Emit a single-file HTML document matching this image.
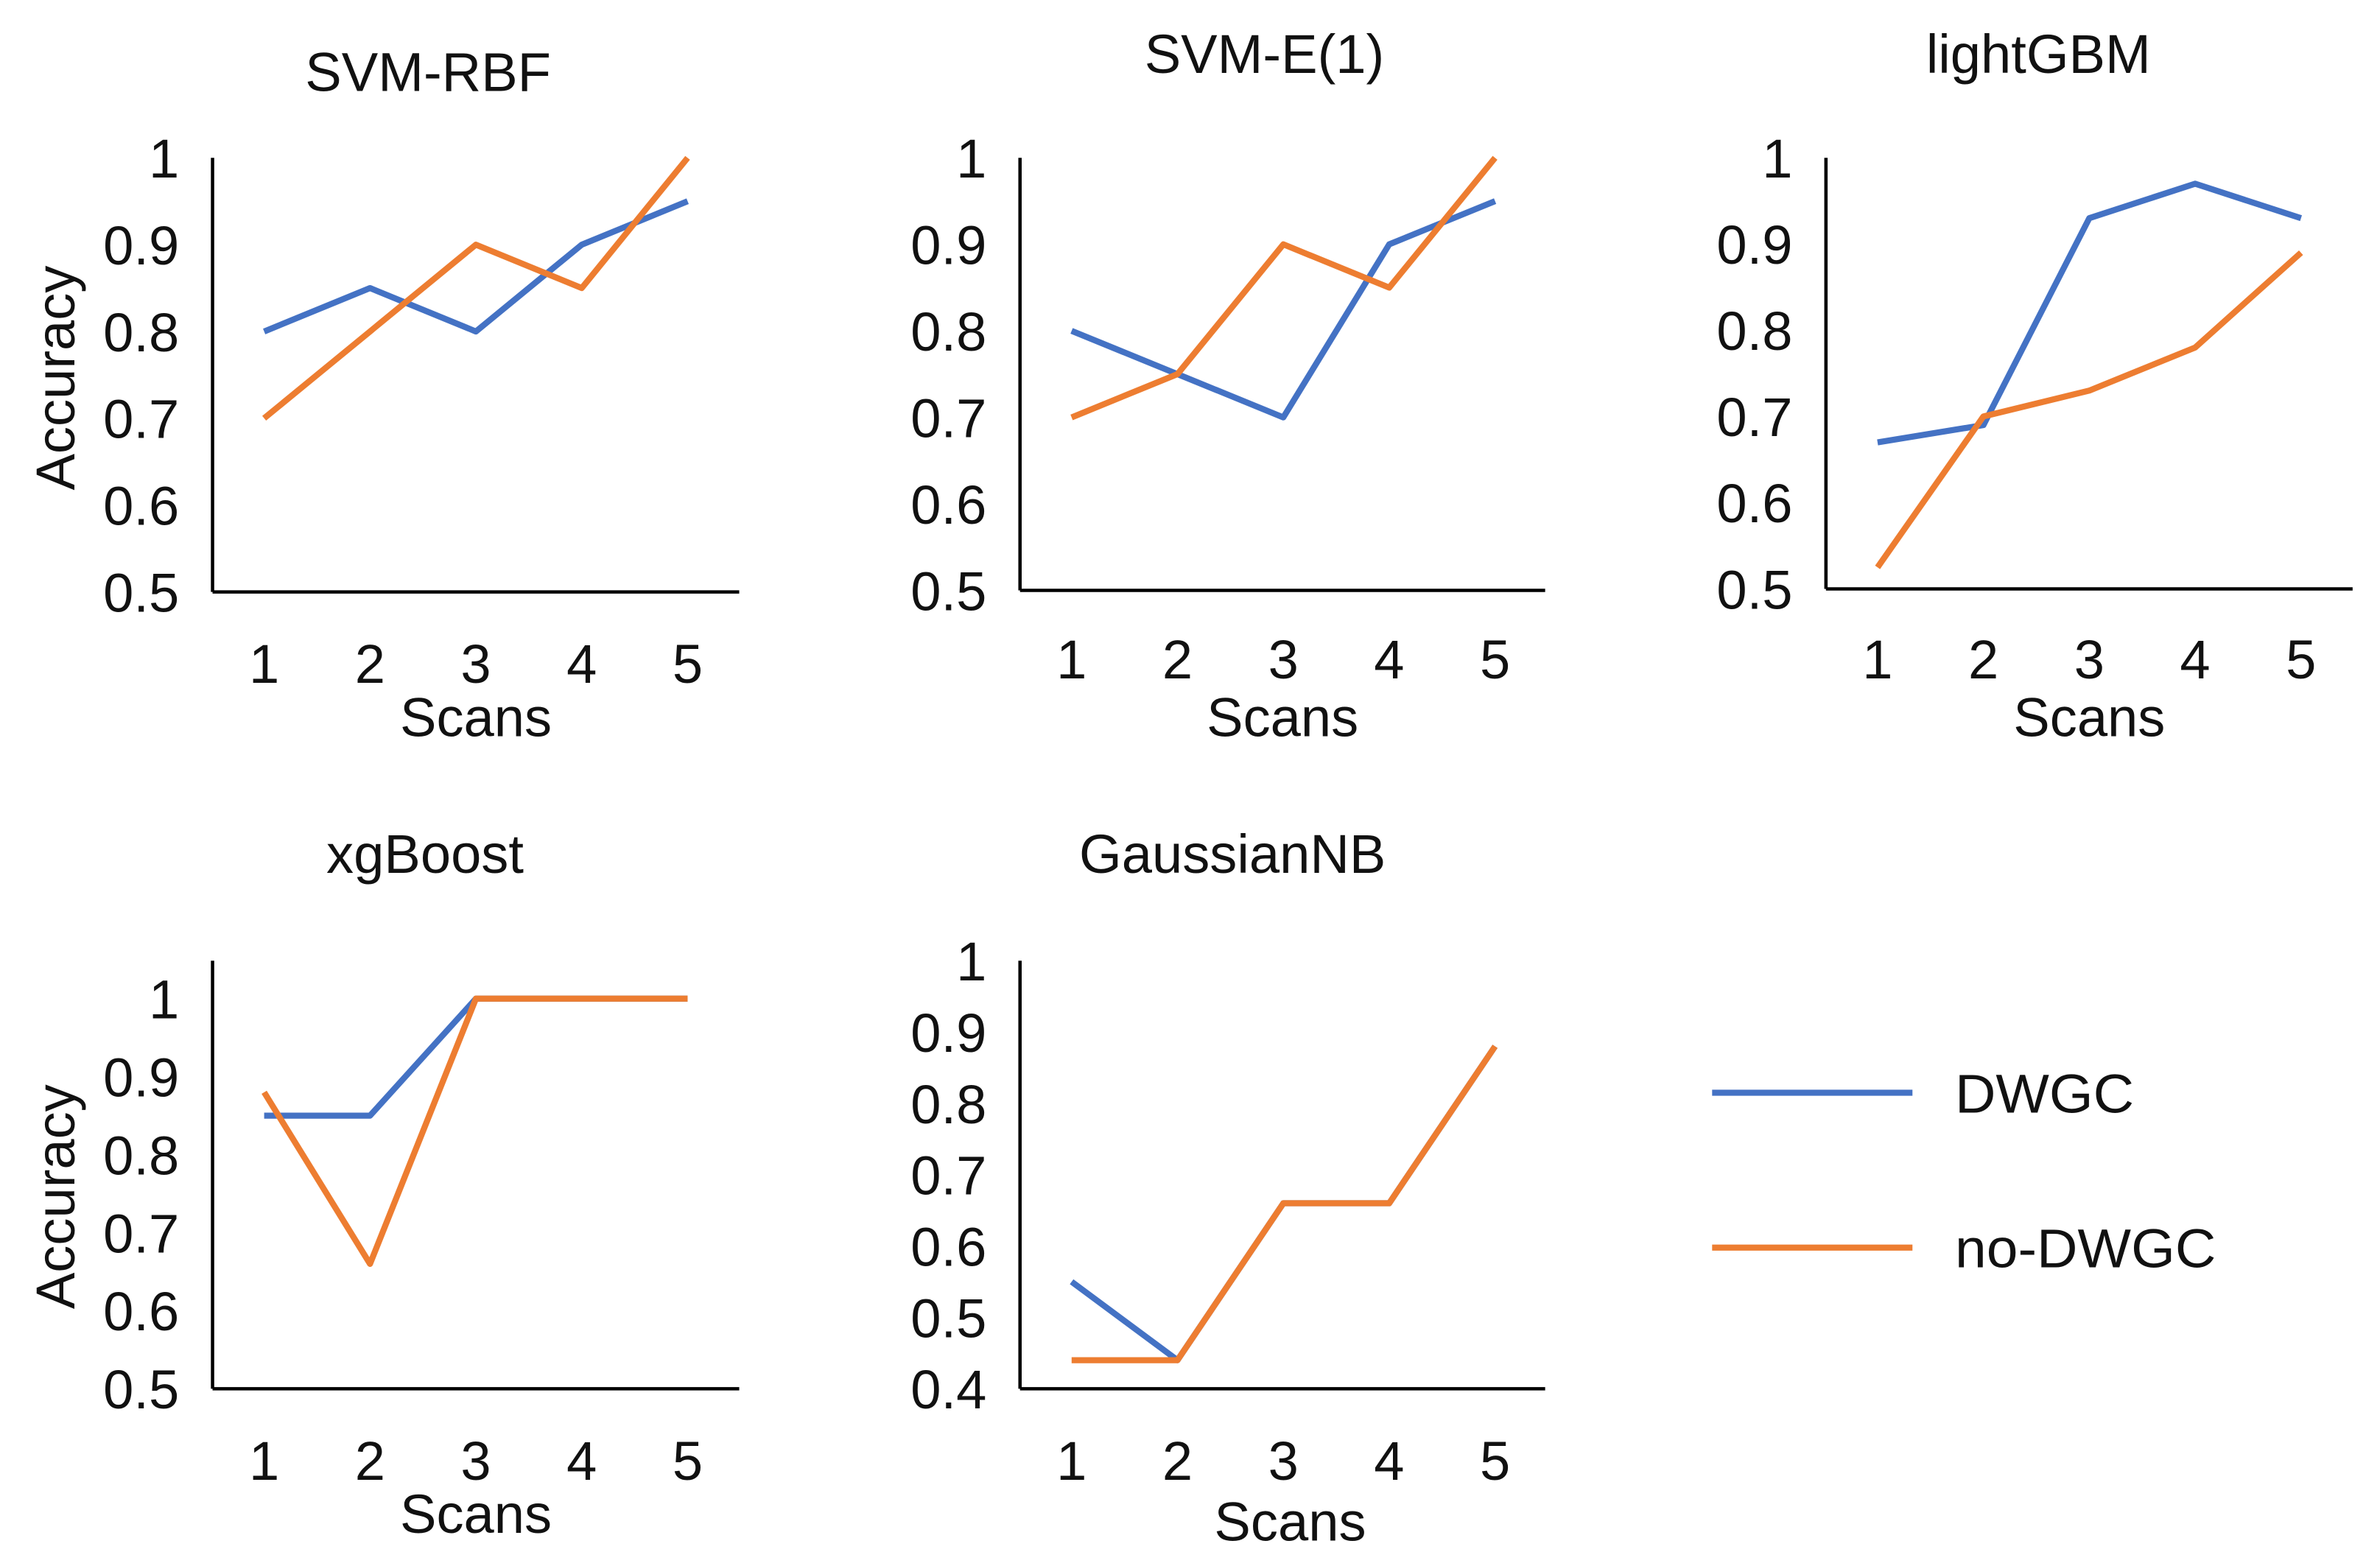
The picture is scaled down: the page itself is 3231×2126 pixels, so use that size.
<!DOCTYPE html>
<html><head><meta charset="utf-8"><style>
html,body{margin:0;padding:0;background:#fff}
svg{display:block}
text{font-family:"Liberation Sans",Arial,sans-serif;fill:#111}
</style></head><body>
<svg id="fig" xmlns="http://www.w3.org/2000/svg" width="3231" height="2126" viewBox="0 0 1568 1031.8"></svg>
<script>
const scans = [1,2,3,4,5];
const seriesNames = ["DWGC","no-DWGC"];
const titles = ["SVM-RBF","SVM-E(1)","lightGBM","xgBoost","GaussianNB"];
const svmRbfDwgc = [0.8,0.85,0.8,0.9,0.95];
const svmRbfNo = [0.7,0.8,0.9,0.85,1.0];
const svmE1Dwgc = [0.8,0.75,0.7,0.9,0.95];
const svmE1No = [0.7,0.75,0.9,0.85,1.0];
const lgbmDwgc = [0.67,0.69,0.93,0.97,0.93];
const lgbmNo = [0.525,0.70,0.73,0.78,0.89];
const xgbDwgc = [0.85,0.85,1.0,1.0,1.0];
const xgbNo = [0.88,0.66,1.0,1.0,1.0];
const gnbDwgc = [0.55,0.44,0.66,0.66,0.88];
const gnbNo = [0.44,0.44,0.66,0.66,0.88];
const yTicksA = ["0.5","0.6","0.7","0.8","0.9","1"];
const yTicksB = ["0.4","0.5","0.6","0.7","0.8","0.9","1"];

const NS="http://www.w3.org/2000/svg";
const svg=document.getElementById('fig');
const colors=["#4472C4","#ED7D31"];
function mk(tag,attrs,parent){const e=document.createElementNS(NS,tag);for(const k in attrs)e.setAttribute(k,attrs[k]);(parent||svg).appendChild(e);return e;}

const panels=[
 {ax:140,top:104,bottom:390,right:487,ymin:0.5,ymax:1.0,ticks:yTicksA,d:[svmRbfDwgc,svmRbfNo],tb:60,tx:282,xb:450,sb:485,acc:true},
 {ax:672,top:104,bottom:389,right:1018,ymin:0.5,ymax:1.0,ticks:yTicksA,d:[svmE1Dwgc,svmE1No],tb:48,tx:833,xb:447,sb:485,acc:false},
 {ax:1203,top:104,bottom:388,right:1550,ymin:0.5,ymax:1.0,ticks:yTicksA,d:[lgbmDwgc,lgbmNo],tb:48,tx:1343,xb:447,sb:485,acc:false},
 {ax:140,top:633,bottom:915,right:487,ymin:0.5,ymax:1.0,ytop:658,ticks:yTicksA,d:[xgbDwgc,xgbNo],tb:575,tx:280,xb:975,sb:1010,acc:true},
 {ax:672,top:633,bottom:915,right:1018,ymin:0.4,ymax:1.0,ticks:yTicksB,d:[gnbDwgc,gnbNo],tb:575,tx:812,xb:975,sb:1015,acc:false}
];
panels.forEach((p,i)=>{
  const g=mk('g',{});
  
  
  const x0=p.ax+34, dx=69.75;
  const yTop=p.ytop||p.top;
  const xs=v=>x0+(v-1)*dx;
  const ys=v=>p.bottom-(v-p.ymin)/(p.ymax-p.ymin)*(p.bottom-yTop);
  const t=mk('text',{x:p.tx,y:p.tb,'text-anchor':'middle','font-size':36},g);
  t.textContent=titles[i];
  
  
  const ya=mk('line',{x1:p.ax,y1:p.top,x2:p.ax,y2:p.bottom,stroke:'#000','stroke-width':2.2},g);
  
  
  const xa=mk('line',{x1:p.ax,y1:p.bottom,x2:p.right,y2:p.bottom,stroke:'#000','stroke-width':2.2},g);
  
  
  p.ticks.forEach(lab=>{
    const tt=mk('text',{x:p.ax-22,y:ys(parseFloat(lab))+13,'text-anchor':'end','font-size':36},g);
    tt.textContent=lab;
    
    
  });
  scans.forEach(s=>{
    const tt=mk('text',{x:xs(s),y:p.xb,'text-anchor':'middle','font-size':36},g);
    tt.textContent=String(s);
    
    
  });
  const st=mk('text',{x:(p.ax+p.right)/2+(i==4?5:0),y:p.sb,'text-anchor':'middle','font-size':36},g);
  st.textContent='Scans';
  
  
  if(p.acc){
    const cy=(yTop+p.bottom)/2+2;
    const at=mk('text',{x:0,y:0,'text-anchor':'middle','font-size':36,transform:`translate(49,${cy}) rotate(-90)`},g);
    at.textContent='Accuracy';
    
    
  }
  p.d.forEach((arr,k)=>{
    const pts=arr.map((v,j)=>xs(scans[j]).toFixed(2)+','+ys(v).toFixed(2)).join(' ');
    const pl=mk('polyline',{points:pts,fill:'none',stroke:colors[k],'stroke-width':4,'stroke-linejoin':'round'},g);
    
    
  });
});
const lg=mk('g',{});


[720,822].forEach((y,k)=>{
  const e=mk('g',{},lg);
  
  
  mk('line',{x1:1128,y1:y,x2:1260,y2:y,stroke:colors[k],'stroke-width':4},e);
  const t=mk('text',{x:1288,y:y+13,'font-size':36,textLength:k?172:118,lengthAdjust:'spacingAndGlyphs'},e);
  t.textContent=seriesNames[k];
});
</script>
</body></html>
